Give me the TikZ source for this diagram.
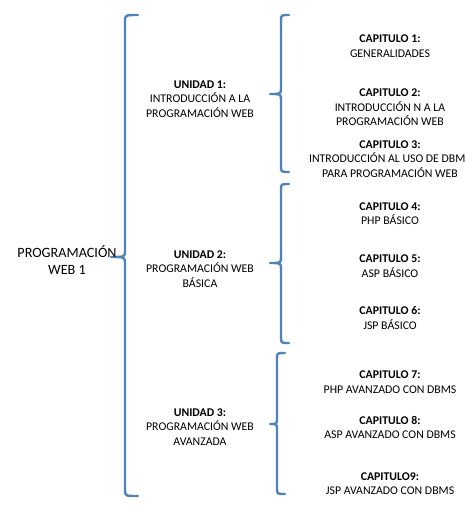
\documentclass[tikz,border=0pt]{standalone}
\usepackage{fontspec}
\setmainfont{Carlito}
\definecolor{azulllave}{HTML}{4F81BD}

\begin{document}
\begin{tikzpicture}[x=1pt,y=-1pt]
	\tikzstyle{every node}+=[inner sep=0pt,align=center,font=\fontsize{11.8}{14.5}\selectfont]
	\tikzstyle{llave}=[draw=azulllave,line width=2.4pt,line join=round,line cap=round]
	\useasboundingbox[fill=white] (0,0) rectangle (464,527);
	% llave grande
	\draw[llave] (138,15) .. controls (125,15) .. (125,22) -- (125,250) .. controls (125,257) .. (111,257)
		.. controls (125,257) .. (125,264) -- (125,489) .. controls (125,496) .. (138,496);
	% llaves de las unidades
	\draw[llave] (289,15) .. controls (281,15) .. (281,21) -- (281,88) .. controls (281,94) .. (270,94)
		.. controls (281,94) .. (281,100) -- (281,166) .. controls (281,172) .. (289,172);
	\draw[llave] (289,184) .. controls (281,184) .. (281,190) -- (281,257) .. controls (281,263) .. (270,263)
		.. controls (281,263) .. (281,269) -- (281,337) .. controls (281,343) .. (289,343);
	\draw[llave] (285,353) .. controls (277,353) .. (277,359) -- (277,418) .. controls (277,424) .. (270,424)
		.. controls (277,424) .. (277,430) -- (277,488) .. controls (277,494) .. (285,494);
	% raiz
	\node[font=\fontsize{14.2}{17}\selectfont] (raiz) at (67,260.5) {PROGRAMACIÓN\\WEB 1};
	% unidades
	\node (u1) at (200,99) {\textbf{UNIDAD 1:}\\INTRODUCCIÓN A LA\\PROGRAMACIÓN WEB};
	\node (u2) at (200,269) {\textbf{UNIDAD 2:}\\PROGRAMACIÓN WEB\\BÁSICA};
	\node (u3) at (200,427) {\textbf{UNIDAD 3:}\\PROGRAMACIÓN WEB\\AVANZADA};
	% capitulos
	\node (c1) at (390,46) {\textbf{CAPITULO 1:}\\GENERALIDADES};
	\node (c2) at (390,107.5) {\textbf{CAPITULO 2:}\\INTRODUCCIÓN N A LA\\PROGRAMACIÓN WEB};
	\node (c3) at (390,159) {\textbf{CAPITULO 3:}\\INTRODUCCIÓN AL USO DE DBMS\\PARA PROGRAMACIÓN WEB};
	\node (c4) at (390,213.5) {\textbf{CAPITULO 4:}\\PHP BÁSICO};
	\node (c5) at (390,266) {\textbf{CAPITULO 5:}\\ASP BÁSICO};
	\node (c6) at (390,318) {\textbf{CAPITULO 6:}\\JSP BÁSICO};
	\node (c7) at (390,382) {\textbf{CAPITULO 7:}\\PHP AVANZADO CON DBMS};
	\node (c8) at (390,427.5) {\textbf{CAPITULO 8:}\\ASP AVANZADO CON DBMS};
	\node (c9) at (390,483.5) {\textbf{CAPITULO9:}\\JSP AVANZADO CON DBMS};
\end{tikzpicture}
\end{document}
